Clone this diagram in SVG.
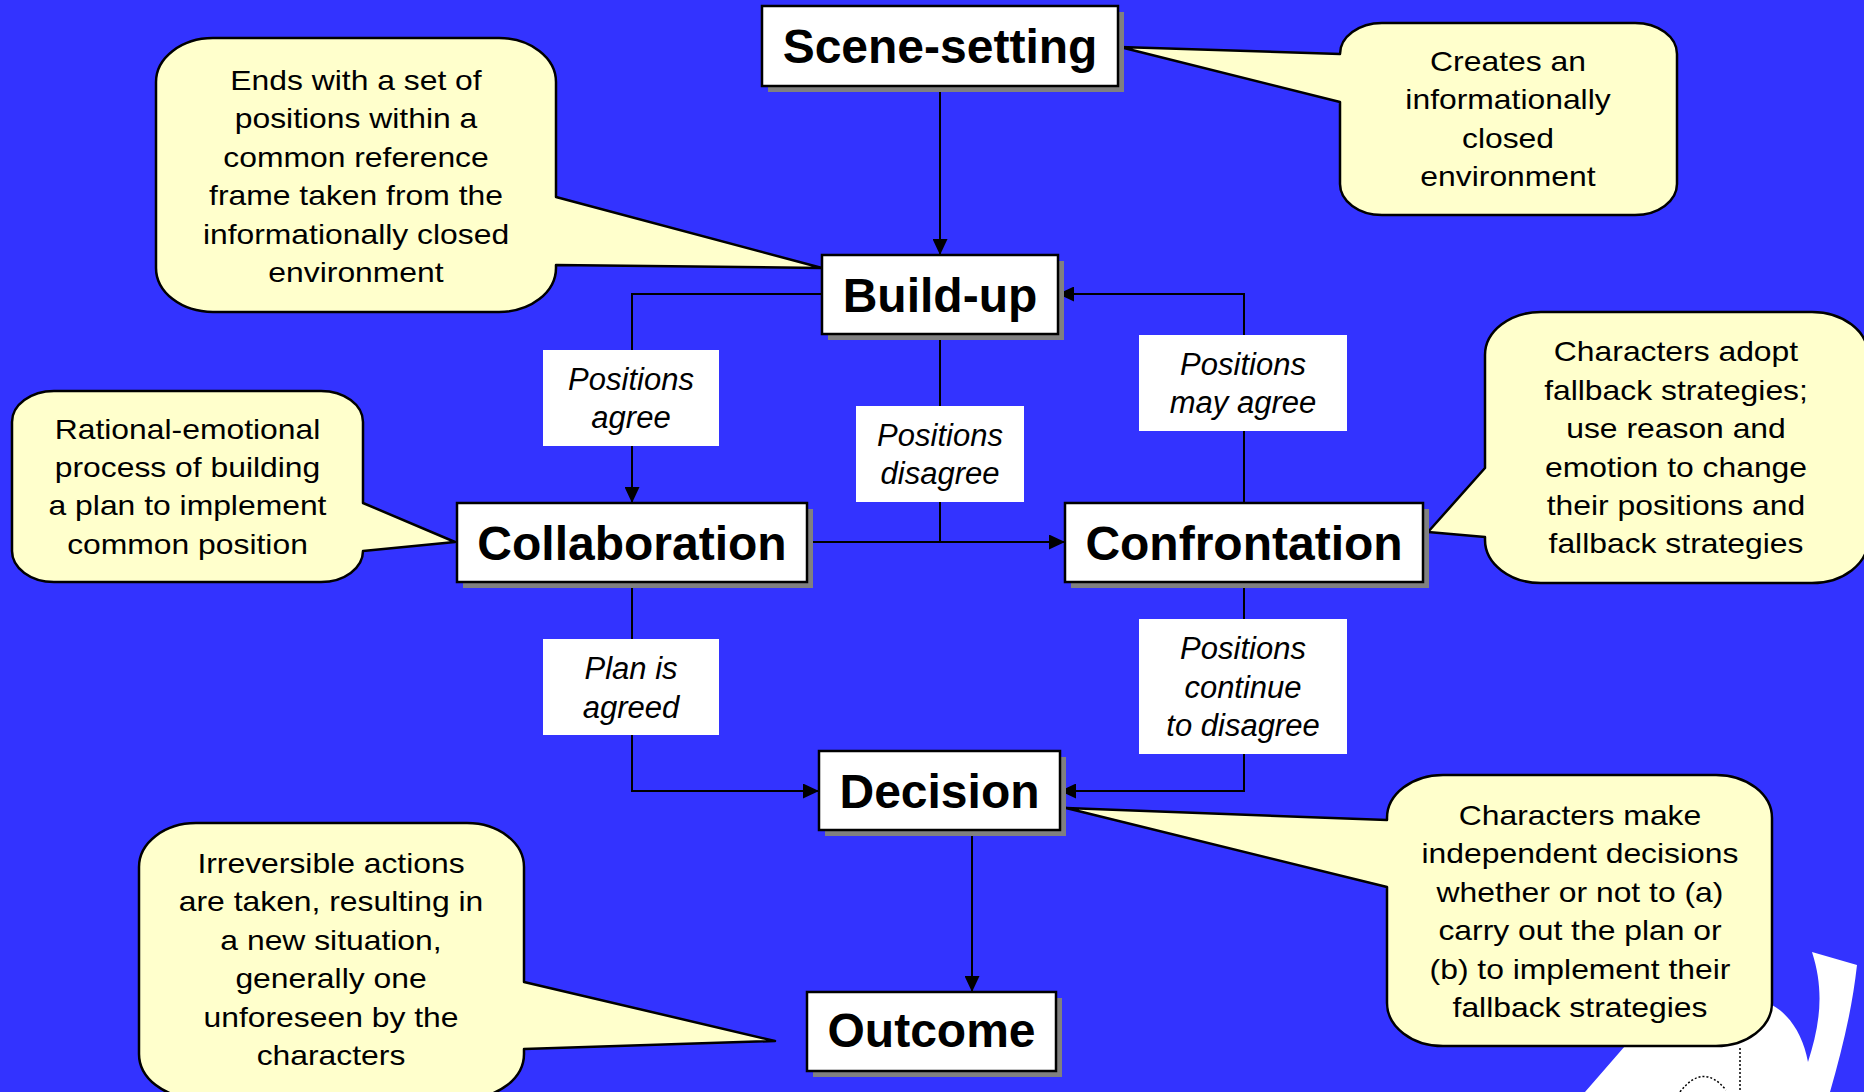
<svg xmlns="http://www.w3.org/2000/svg" width="1864" height="1092" viewBox="0 0 1864 1092">
<style>
.node rect.sh{fill:#808080}
.node rect.bx{fill:#fff;stroke:#000;stroke-width:2.5}
.node text{font-family:"Liberation Sans",Arial,sans-serif;font-weight:bold;font-size:48px;text-anchor:middle;fill:#000}
.lbl rect{fill:#fff}
.lbl text{font-family:"Liberation Sans",Arial,sans-serif;font-style:italic;font-size:31px;text-anchor:middle;fill:#000}
.call path{fill:#ffffcc;stroke:#000;stroke-width:2.5;stroke-linejoin:round}
.call text{font-family:"Liberation Sans",Arial,sans-serif;font-size:27px;text-anchor:middle;fill:#000}
#connectors path{fill:none;stroke:#000;stroke-width:2}
</style>
<defs>
<marker id="arr" markerUnits="userSpaceOnUse" markerWidth="16" markerHeight="15" refX="16" refY="7.5" orient="auto">
<path d="M0,0 L16,7.5 L0,15 Z" fill="#000"/>
</marker>
</defs>
<rect x="0" y="0" width="1864" height="1092" fill="#3333ff"/>
<g id="decor">
<path d="M1585,1092 L1625,1046 L1700,1010 L1772,1005 C1790,1015 1803,1035 1808,1062 C1818,1030 1826,995 1812,952 L1857,965 C1852,1010 1842,1050 1830,1092 Z" fill="#fff"/>
<path d="M1740,1048 V1092" stroke="#000" stroke-width="1.5" stroke-dasharray="2,2" fill="none"/>
<path d="M1680,1092 Q1703,1062 1726,1090" stroke="#000" stroke-width="1.5" stroke-dasharray="2,2" fill="none"/>
</g>
<g id="connectors">
<path d="M940,86 V255" marker-end="url(#arr)"/>
<path d="M822,294 H632 V503" marker-end="url(#arr)"/>
<path d="M940,334 V542"/>
<path d="M807,542 H1065" marker-end="url(#arr)"/>
<path d="M1244,503 V294 H1058" marker-end="url(#arr)"/>
<path d="M632,582 V791 H819" marker-end="url(#arr)"/>
<path d="M1244,582 V791 H1060" marker-end="url(#arr)"/>
<path d="M972,830 V992" marker-end="url(#arr)"/>
</g>
<g id="callout-creates" class="call">
<path d="M1382,23 H1635 A42,31 0 0 1 1677,54 V184 A42,31 0 0 1 1635,215 H1382 A42,31 0 0 1 1340,184 V102 L1120,47 L1340,54 A42,31 0 0 1 1382,23 Z"/>
<g transform="translate(1508 0) scale(1.18 1)"><text><tspan x="0" y="71">Creates an</tspan><tspan x="0" y="109.5">informationally</tspan><tspan x="0" y="148">closed</tspan><tspan x="0" y="186">environment</tspan></text></g>
</g>
<g id="callout-ends" class="call">
<path d="M213,38 H499 A57,44 0 0 1 556,82 V197 L822,268 L556,265 V268 A57,44 0 0 1 499,312 H213 A57,44 0 0 1 156,268 V82 A57,44 0 0 1 213,38 Z"/>
<g transform="translate(356 0) scale(1.18 1)"><text><tspan x="0" y="90">Ends with a set of</tspan><tspan x="0" y="128.4">positions within a</tspan><tspan x="0" y="166.8">common reference</tspan><tspan x="0" y="205.2">frame taken from the</tspan><tspan x="0" y="243.6">informationally closed</tspan><tspan x="0" y="282">environment</tspan></text></g>
</g>
<g id="callout-rational" class="call">
<path d="M54,391 H321 A42,31 0 0 1 363,422 V503 L455,542 L363,551 A42,31 0 0 1 321,582 H54 A42,31 0 0 1 12,551 V422 A42,31 0 0 1 54,391 Z"/>
<g transform="translate(187.5 0) scale(1.18 1)"><text><tspan x="0" y="438.6">Rational-emotional</tspan><tspan x="0" y="477">process of building</tspan><tspan x="0" y="515.3">a plan to implement</tspan><tspan x="0" y="553.6">common position</tspan></text></g>
</g>
<g id="callout-adopt" class="call">
<path d="M1541,312 H1812 A56,43 0 0 1 1868,355 V540 A56,43 0 0 1 1812,583 H1541 A56,43 0 0 1 1485,540 V537 L1428,532 L1485,468 V355 A56,43 0 0 1 1541,312 Z"/>
<g transform="translate(1676 0) scale(1.18 1)"><text><tspan x="0" y="361.5">Characters adopt</tspan><tspan x="0" y="400">fallback strategies;</tspan><tspan x="0" y="438.3">use reason and</tspan><tspan x="0" y="476.7">emotion to change</tspan><tspan x="0" y="515">their positions and</tspan><tspan x="0" y="553.5">fallback strategies</tspan></text></g>
</g>
<g id="callout-make" class="call">
<path d="M1443,775 H1716 A56,43 0 0 1 1772,818 V1003 A56,43 0 0 1 1716,1046 H1443 A56,43 0 0 1 1387,1003 V887 L1066,808 L1387,820 V818 A56,43 0 0 1 1443,775 Z"/>
<g transform="translate(1580 0) scale(1.18 1)"><text><tspan x="0" y="825">Characters make</tspan><tspan x="0" y="863.4">independent decisions</tspan><tspan x="0" y="901.8">whether or not to (a)</tspan><tspan x="0" y="940.2">carry out the plan or</tspan><tspan x="0" y="978.6">(b) to implement their</tspan><tspan x="0" y="1017">fallback strategies</tspan></text></g>
</g>
<g id="callout-irreversible" class="call">
<path d="M196,823 H467 A57,44 0 0 1 524,867 V982 L775,1041 L524,1049 V1054 A57,44 0 0 1 467,1098 H196 A57,44 0 0 1 139,1054 V867 A57,44 0 0 1 196,823 Z"/>
<g transform="translate(331 0) scale(1.18 1)"><text><tspan x="0" y="873">Irreversible actions</tspan><tspan x="0" y="911.5">are taken, resulting in</tspan><tspan x="0" y="950">a new situation,</tspan><tspan x="0" y="988.5">generally one</tspan><tspan x="0" y="1027">unforeseen by the</tspan><tspan x="0" y="1065.5">characters</tspan></text></g>
</g>
<g id="label-agree" class="lbl"><rect x="543" y="350" width="176" height="96"/><text><tspan x="631" y="390">Positions</tspan><tspan x="631" y="428">agree</tspan></text></g>
<g id="label-disagree" class="lbl"><rect x="856" y="406" width="168" height="96"/><text><tspan x="940" y="446">Positions</tspan><tspan x="940" y="484">disagree</tspan></text></g>
<g id="label-mayagree" class="lbl"><rect x="1139" y="335" width="208" height="96"/><text><tspan x="1243" y="375">Positions</tspan><tspan x="1243" y="413">may agree</tspan></text></g>
<g id="label-plan" class="lbl"><rect x="543" y="639" width="176" height="96"/><text><tspan x="631" y="679">Plan is</tspan><tspan x="631" y="717.5">agreed</tspan></text></g>
<g id="label-continue" class="lbl"><rect x="1139" y="619" width="208" height="135"/><text><tspan x="1243" y="659">Positions</tspan><tspan x="1243" y="697.5">continue</tspan><tspan x="1243" y="736">to disagree</tspan></text></g>
<g id="node-scene" class="node"><rect class="sh" x="768" y="12" width="356" height="80"/><rect class="bx" x="762" y="6" width="356" height="80"/><text x="940" y="63">Scene-setting</text></g>
<g id="node-buildup" class="node"><rect class="sh" x="828" y="261" width="236" height="79"/><rect class="bx" x="822" y="255" width="236" height="79"/><text x="940" y="311.5">Build-up</text></g>
<g id="node-collab" class="node"><rect class="sh" x="463" y="509" width="350" height="79"/><rect class="bx" x="457" y="503" width="350" height="79"/><text x="632" y="559.5">Collaboration</text></g>
<g id="node-confront" class="node"><rect class="sh" x="1071" y="509" width="358" height="79"/><rect class="bx" x="1065" y="503" width="358" height="79"/><text x="1244" y="559.5">Confrontation</text></g>
<g id="node-decision" class="node"><rect class="sh" x="825" y="757" width="241" height="79"/><rect class="bx" x="819" y="751" width="241" height="79"/><text x="939.5" y="808">Decision</text></g>
<g id="node-outcome" class="node"><rect class="sh" x="813" y="998" width="249" height="79"/><rect class="bx" x="807" y="992" width="249" height="79"/><text x="931.5" y="1047">Outcome</text></g>
</svg>
